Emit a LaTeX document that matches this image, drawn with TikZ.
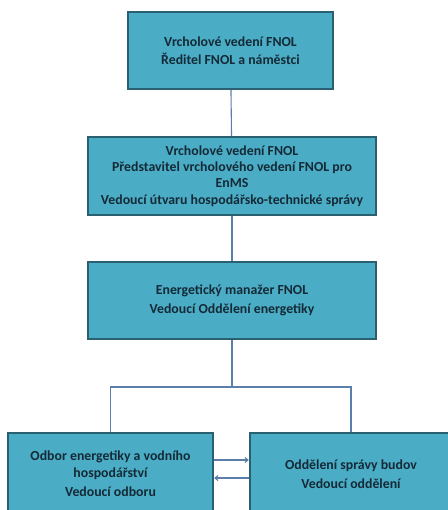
\documentclass[tikz,border=0pt]{standalone}
\usepackage{fontspec}
\setmainfont{Carlito}
\usetikzlibrary{arrows.meta}
\definecolor{boxfill}{HTML}{4BACC6}
\definecolor{boxedge}{HTML}{2B6072}
\definecolor{linkcol}{HTML}{5B7FA8}
\definecolor{textcol}{HTML}{142A36}
\begin{document}
\begin{tikzpicture}[x=1pt, y=-1pt,
		orgbox/.style = {draw = boxedge, line width = 2.4pt, fill = boxfill, text = textcol, align = center, font = \fontsize{13.8}{18.5}\selectfont\bfseries, inner sep = 0pt},
		link/.style = {draw = linkcol, line width = 1.1pt},
		flow/.style = {link, -{Straight Barb[length=3pt, width=5pt]}}]
		\fill[white] (0,0) rectangle (447,510);
		\useasboundingbox (0,0) rectangle (447,510);
		\node[orgbox, minimum width = 205pt, minimum height = 77pt] (top) at (230.5,50.5) {Vrcholové vedení FNOL\\Ředitel FNOL a náměstci};
		\node[orgbox, minimum width = 288pt, minimum height = 78pt, font = \fontsize{13.8}{16.2}\selectfont\bfseries] (rep) at (232,176) {Vrcholové vedení FNOL\\Představitel vrcholového vedení FNOL pro\\EnMS\\Vedoucí útvaru hospodářsko-technické správy};
		\node[orgbox, minimum width = 288pt, minimum height = 77pt] (manager) at (232,300.5) {Energetický manažer FNOL\\Vedoucí Oddělení energetiky};
		\node[orgbox, minimum width = 205pt, minimum height = 82pt] (water) at (110.5,474) {Odbor energetiky a vodního\\[-2pt]hospodářství\\[1pt]Vedoucí odboru};
		\node[orgbox, minimum width = 202pt, minimum height = 82pt] (buildings) at (351,474) {Oddělení správy budov\\Vedoucí oddělení};
		\coordinate (split) at (232,387);
		\draw[link] (top) -- (rep);
		\draw[link] (rep) -- (manager);
		\draw[link] (manager) -- (split);
		\draw[link] (split) -| (water.north);
		\draw[link] (split) -| (buildings.north);
		\draw[flow] ([yshift=14pt]water.east) -- ([yshift=14pt]buildings.west);
		\draw[flow] ([yshift=-4pt]buildings.west) -- ([yshift=-4pt]water.east);
	\end{tikzpicture}
\end{document}
